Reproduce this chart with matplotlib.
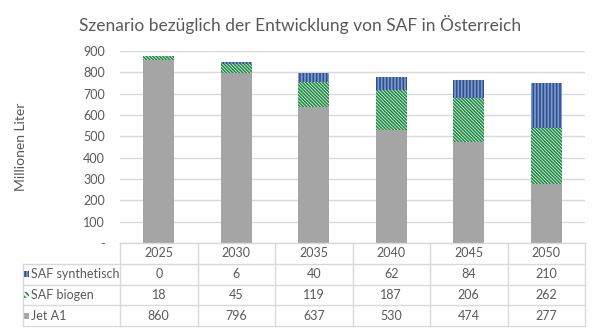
import matplotlib
matplotlib.use("Agg")
from matplotlib import pyplot as plt
from matplotlib.patches import Rectangle
from matplotlib.transforms import blended_transform_factory
import numpy as np

# data
years = ["2025", "2030", "2035", "2040", "2045", "2050"]
jet_a1 = [860, 796, 637, 530, 474, 277]
saf_biogen = [18, 45, 119, 187, 206, 262]
saf_synth = [0, 6, 40, 62, 84, 210]
series_names = ["SAF synthetisch", "SAF biogen", "Jet A1"]
yticks = [0, 100, 200, 300, 400, 500, 600, 700, 800, 900]

plt.rcParams["font.family"] = ["Lato", "DejaVu Sans"]
plt.rcParams["hatch.linewidth"] = 1.2

GRAY = "#A5A5A5"
GREEN = "#1E8B45"
BLUE = "#2B4F8F"
BLUE_H = "#7F9BCF"
TXT = "#595959"
GRID = "#D9D9D9"
HATCH_BIO = "\\" * 10
HATCH_SYN = "|" * 5

fig = plt.figure(figsize=(6, 3.28), dpi=100)
ax = fig.add_axes([0.2, 1 - 243 / 328, 0.775, 192 / 328])

x = np.arange(len(years))
jet = np.array(jet_a1)
bio = np.array(saf_biogen)
syn = np.array(saf_synth)

ax.bar(x, jet, width=0.4, color=GRAY, linewidth=0, zorder=2)
ax.bar(x, bio, bottom=jet, width=0.4, facecolor="white", edgecolor=GREEN,
       hatch=HATCH_BIO, linewidth=0, zorder=2)
ax.bar(x, syn, bottom=jet + bio, width=0.4, facecolor=BLUE, edgecolor=BLUE_H,
       hatch=HATCH_SYN, linewidth=0, zorder=2)

ax.set_xlim(-0.5, len(years) - 0.5)
ax.set_ylim(0, 900)
ax.set_yticks(yticks)
ax.set_yticklabels(["-" if v == 0 else str(v) for v in yticks])
ax.tick_params(axis="y", length=0, labelsize=9, labelcolor=TXT, pad=11)
ax.set_xticks([])
ax.grid(axis="y", color=GRID, linewidth=1, zorder=0)
for s in ax.spines.values():
    s.set_visible(False)

ax.set_ylabel("Millionen Liter", fontsize=10, color=TXT)
ax.yaxis.set_label_coords(-0.2, 0.5)
fig.suptitle("Szenario bezüglich der Entwicklung von SAF in Österreich",
             fontsize=12.5, color=TXT, y=0.955)

# data table below the plot
tr = blended_transform_factory(ax.transData, ax.transAxes)
rh = 20.75 / 192
left = -0.5 - 97 / 77.5
right = len(years) - 0.5
rows = [saf_synth, saf_biogen, jet_a1]
n_rows = len(rows) + 1

def hline(y, x0, x1):
    ax.plot([x0, x1], [y, y], color=GRID, lw=1, transform=tr, clip_on=False)

def vline(xx, y0, y1):
    ax.plot([xx, xx], [y0, y1], color=GRID, lw=1, transform=tr, clip_on=False)

hline(0, -0.5, right)
for r in range(1, n_rows + 1):
    hline(-r * rh, left, right)
vline(left, -rh, -n_rows * rh)
for i in range(len(years) + 1):
    vline(i - 0.5, 0, -n_rows * rh)

for i, yr in enumerate(years):
    ax.text(i, -0.5 * rh, yr, ha="center", va="center", fontsize=9,
            color=TXT, transform=tr)
for r, vals in enumerate(rows):
    yc = -(r + 1.5) * rh
    for i, v in enumerate(vals):
        ax.text(i, yc, str(v), ha="center", va="center", fontsize=9,
                color=TXT, transform=tr)
    ax.text(left + 0.1, yc, series_names[r], ha="left", va="center",
            fontsize=9, color=TXT, transform=tr)

# legend swatches
sw_w, sw_h = 0.065, 0.03
styles = [dict(facecolor=BLUE, edgecolor=BLUE_H, hatch="|" * 4),
          dict(facecolor="white", edgecolor=GREEN, hatch="\\" * 6),
          dict(facecolor=GRAY, edgecolor=GRAY)]
for r, st in enumerate(styles):
    yc = -(r + 1.5) * rh
    ax.add_patch(Rectangle((left + 0.013, yc - sw_h / 2), sw_w, sw_h, lw=0,
                           transform=tr, clip_on=False, **st))

fig.savefig("out.png", dpi=100)
